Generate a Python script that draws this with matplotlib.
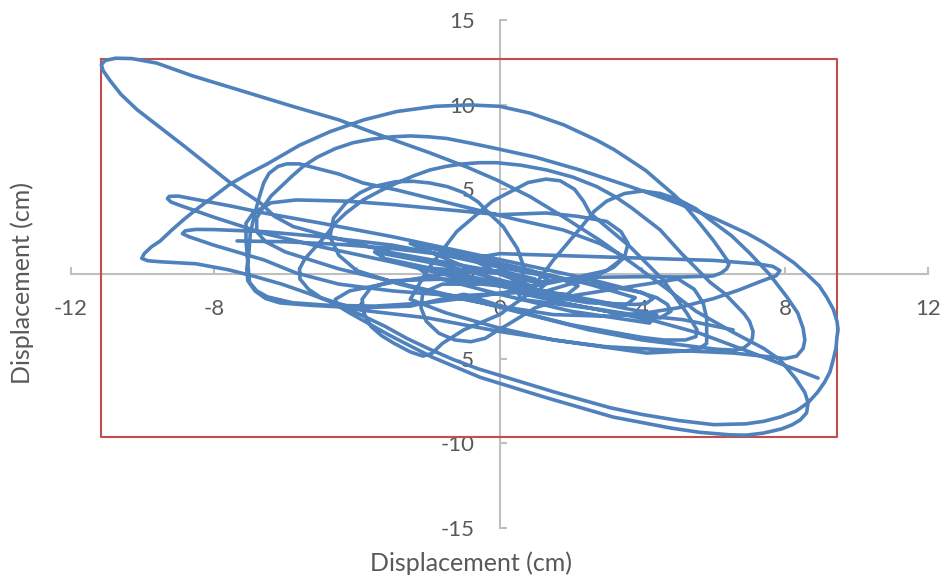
import matplotlib
matplotlib.use("Agg")
import matplotlib.pyplot as plt

plt.rcParams['font.family'] = ['Lato', 'DejaVu Sans']
plt.rcParams['axes.unicode_minus'] = False

# orbit of the displacement (x, y) in cm
orbit_xy = [
    (-7.35, 1.95), (-6.0, 1.9), (-4.5, 1.75), (-3.0, 1.5), (-1.8, 1.2), (-0.6, 0.8), (0.6, 0.3),
    (1.6, -0.2), (2.2, -0.7), (1.9, -1.2), (1.0, -1.2), (0.0, -0.7),
    (-1.0, -0.3), (-3.0, 0.7), (-5.0, 1.6), (-6.6, 2.4), (-8.0, 3.35), (-8.95, 4.05), (-9.2, 4.25),
    (-9.3, 4.45), (-9.25, 4.58), (-9.0, 4.6), (-8.5, 4.4), (-7.5, 4.0), (-6.6, 3.6), (-5.0, 3.0),
    (-3.0, 2.2), (-1.0, 1.3), (1.0, 0.4), (2.5, -0.3), (3.8, -1.0), (4.4, -1.4), (4.7, -1.8),
    (4.8, -2.2), (4.5, -2.6), (3.5, -2.4), (2.0, -1.8), (0.5, -1.1),
    (-1.2, -1.3), (-3.0, -1.0), (-4.5, -0.6), (-5.7, 0.06), (-6.6, 0.83), (-8.0, 1.7), (-8.7, 2.2),
    (-8.88, 2.38), (-8.8, 2.55), (-8.5, 2.63), (-8.0, 2.62), (-6.6, 2.5), (-5.0, 2.2), (-3.0, 1.7),
    (-1.5, 1.1), (0.0, 0.4), (1.5, -0.2), (3.0, -0.7), (4.0, -1.1), (4.3, -1.45), (4.1, -1.75),
    (3.8, -1.8), (2.5, -1.7), (1.0, -1.2),
    (2.6, -0.2), (3.2, 0.4), (3.5, 1.0), (3.6, 1.8), (3.4, 2.5), (3.0, 3.1), (2.2, 3.4), (1.3, 3.6),
    (0.0, 3.5), (-1.5, 3.8), (-3.0, 4.1), (-4.3, 4.3), (-5.7, 4.37), (-6.4, 4.2), (-6.9, 3.6),
    (-7.1, 3.0), (-7.1, 2.0), (-7.05, 0.65), (-7.0, -0.5), (-6.8, -1.0), (-6.5, -1.35), (-5.8, -1.7),
    (-4.8, -1.85), (-3.5, -1.9), (-2.0, -1.7), (-0.5, -1.3), (1.0, -0.8),
    (0.0, 0.0), (-0.8, 0.9), (0.0, 1.2), (1.5, 1.1), (3.0, 1.0), (4.5, 0.9), (6.0, 0.8), (7.2, 0.6),
    (7.65, 0.45), (7.85, 0.2), (7.75, -0.1), (7.3, -0.45), (6.7, -0.95), (6.0, -1.45), (5.0, -2.0),
    (4.1, -2.3), (3.0, -2.5), (1.5, -2.4), (0.0, -1.9), (-1.5, -1.3), (-2.8, -0.6),
    (-4.0, 0.2), (-4.5, 1.1), (-4.75, 2.2), (-4.65, 3.3), (-4.3, 4.2), (-3.9, 4.8), (-3.55, 5.15),
    (-2.9, 5.45), (-2.4, 5.47), (-1.95, 5.37), (-1.45, 5.15), (-1.0, 4.8), (-0.6, 4.25), (-0.3, 3.6),
    (0.1, 2.8), (0.5, 1.5), (0.7, 0.3), (0.5, -0.8), (-0.5, -0.6), (-1.6, -0.6), (-2.15, -1.1),
    (-2.2, -2.0), (-2.05, -2.8), (-1.7, -3.5), (-1.25, -3.9), (-0.8, -4.0), (-0.4, -3.8),
    (-0.1, -3.4), (0.3, -2.9), (1.0, -2.0), (2.0, -1.3), (3.5, -0.8), (5.0, -0.3), (5.45, -0.9),
    (5.7, -1.7), (5.8, -2.6), (5.8, -3.5), (5.8, -4.1), (5.6, -4.4), (5.2, -4.55), (4.12, -4.67),
    (2.2, -4.1), (0.0, -3.4), (-2.0, -2.6), (-3.9, -2.13), (-4.56, -1.71), (-5.0, -1.4),
    (-5.35, -0.9), (-5.59, -0.3), (-5.6, 0.3), (-5.45, 0.9), (-5.15, 1.6), (-4.85, 2.3),
    (-4.6, 3.0), (-4.3, 3.6), (-3.82, 4.37), (-3.35, 4.9), (-2.88, 5.37), (-2.4, 5.8), (-1.95, 6.14),
    (-1.5, 6.35), (-1.02, 6.5), (-0.55, 6.57), (-0.08, 6.57), (0.6, 6.42), (1.32, 6.14), (2.05, 5.72),
    (2.72, 5.16), (3.25, 4.55), (3.7, 3.9), (4.1, 3.25), (4.5, 2.6), (4.8, 1.9), (5.1, 1.2),
    (5.5, 0.35), (5.9, -0.5), (6.3, -1.15), (6.6, -1.8), (6.85, -2.35), (7.0, -2.8), (7.1, -3.4),
    (7.08, -3.8), (7.0, -4.1), (6.85, -4.35), (6.6, -4.5), (6.1, -4.45), (5.5, -4.3), (4.0, -3.9),
    (2.5, -3.3), (1.0, -2.5), (-0.5, -1.7),
    (-2.5, -0.7), (-4.5, 0.3), (-6.0, 1.3), (-6.55, 1.9), (-6.8, 2.5), (-6.8, 3.3), (-6.6, 4.0),
    (-6.4, 4.6), (-6.1, 5.2), (-5.8, 5.8), (-5.5, 6.35), (-5.1, 6.9), (-4.6, 7.4), (-4.1, 7.75),
    (-3.6, 7.95), (-3.0, 8.1), (-2.5, 8.15), (-2.0, 8.1), (-1.48, 8.0), (-0.8, 7.72), (-0.08, 7.4),
    (1.0, 6.9), (2.25, 6.14), (3.6, 5.2), (4.97, 4.19), (6.0, 3.3), (6.93, 2.4), (7.4, 1.85),
    (7.8, 1.3), (8.25, 0.65), (8.6, 0.0), (8.95, -0.7), (9.17, -1.4), (9.35, -2.1), (9.45, -2.8),
    (9.48, -3.3), (9.45, -3.7), (9.42, -4.4), (9.34, -5.1), (9.25, -5.8), (9.1, -6.4), (8.9, -7.0),
    (8.64, -7.6), (8.3, -8.1), (7.86, -8.45), (7.4, -8.7), (6.9, -8.85), (6.0, -8.9), (5.0, -8.65),
    (4.0, -8.3), (3.1, -7.9), (2.25, -7.4), (1.5, -6.95), (0.8, -6.5), (0.1, -6.05), (-0.6, -5.6),
    (-1.3, -5.05), (-1.95, -4.45), (-2.6, -3.8), (-3.2, -3.1), (-3.9, -2.4), (-4.6, -1.75),
    (-5.35, -1.15), (-6.1, -0.6), (-6.85, -0.15), (-7.6, 0.25), (-8.5, 0.6), (-9.5, 0.72),
    (-9.85, 0.78), (-10.02, 0.92), (-9.95, 1.2), (-9.75, 1.6), (-9.5, 1.95), (-9.2, 2.55),
    (-8.85, 3.2), (-8.5, 3.8), (-8.05, 4.5), (-7.55, 5.3), (-7.05, 5.9), (-6.5, 6.5), (-6.05, 7.05),
    (-5.6, 7.6), (-4.75, 8.4), (-3.8, 9.1), (-2.88, 9.59), (-1.8, 9.9), (-0.83, 9.98), (0.0, 9.9),
    (0.85, 9.5), (1.8, 8.8), (2.72, 7.9), (3.2, 7.35), (3.6, 6.8), (4.1, 6.1), (4.5, 5.37),
    (4.9, 4.65), (5.2, 4.0), (5.6, 3.0), (5.98, 2.0), (6.2, 1.35), (6.37, 0.83), (6.42, 0.55),
    (6.36, 0.3), (6.2, 0.05), (5.98, -0.12), (5.1, -0.18), (4.12, -0.16), (2.5, -0.2), (1.0, -0.5),
    (-0.5, 0.3), (-2.98, 1.24), (-4.56, 2.1), (-5.78, 2.8), (-6.3, 3.4), (-6.7, 4.2), (-7.55, 5.4),
    (-8.8, 7.5), (-10.15, 9.7), (-10.6, 10.6), (-10.9, 11.4), (-11.1, 12.0), (-11.15, 12.35),
    (-11.05, 12.6), (-10.75, 12.74), (-10.3, 12.72), (-9.6, 12.45), (-8.6, 11.7), (-7.2, 10.8),
    (-5.8, 9.9), (-4.5, 9.1), (-3.35, 8.2), (-1.95, 7.15), (-0.9, 6.3), (-0.08, 5.55), (0.85, 4.57),
    (1.78, 3.38), (2.8, 2.0), (3.8, 0.5), (4.7, -0.9), (5.5, -2.2), (6.5, -3.4), (7.4, -4.4),
    (7.86, -5.08), (8.3, -6.2), (8.55, -7.0), (8.64, -7.6), (8.6, -8.2), (8.42, -8.62), (8.2, -8.9),
    (7.9, -9.15), (7.38, -9.4), (6.9, -9.52), (6.46, -9.5), (5.6, -9.35), (4.8, -9.1), (3.18, -8.45),
    (1.3, -7.3), (-0.55, -6.1), (-1.9, -4.9), (-3.1, -3.6), (-4.2, -2.3), (-4.55, -1.85),
    (-4.6, -1.5), (-4.2, -1.0), (-3.0, -0.5), (-1.5, 0.0), (0.0, 0.2),
    (1.0, -0.3), (0.0, -0.6), (-1.5, -0.3), (-3.0, -0.4), (-3.6, -0.8), (-3.85, -1.5), (-3.8, -2.3),
    (-3.6, -3.1), (-3.3, -3.65), (-2.95, -4.1), (-2.5, -4.6), (-2.15, -4.85), (-1.9, -4.7),
    (-1.6, -4.1), (-1.0, -3.3), (0.0, -2.4), (0.8, -1.2), (1.15, -0.2), (1.5, 0.8), (1.9, 1.8),
    (2.3, 2.8), (2.65, 3.7), (3.0, 4.3), (3.5, 4.75), (4.0, 4.9), (4.5, 4.75), (5.0, 4.4),
    (5.5, 3.85), (5.9, 3.19), (6.5, 2.25), (7.0, 1.24), (7.55, 0.0), (8.04, -1.34), (8.35, -2.3),
    (8.5, -3.2), (8.55, -3.9), (8.5, -4.4), (8.32, -4.85), (8.0, -5.0), (7.67, -4.92), (6.55, -4.67),
    (4.68, -4.49), (3.0, -4.3), (1.5, -3.9), (0.0, -3.2), (-1.5, -2.3), (-2.5, -1.5),
    (-2.0, 0.3), (-1.2, 2.5), (-0.2, 4.3), (0.8, 5.4), (1.3, 5.6), (1.7, 5.5), (2.1, 5.0),
    (2.35, 4.3), (2.53, 3.6), (3.66, 1.6), (4.58, -0.35), (5.24, -2.3), (5.53, -3.3), (5.5, -3.7),
    (5.2, -3.9), (4.6, -3.9), (4.0, -3.75), (2.0, -3.0), (0.5, -2.2), (-1.0, -1.2),
    (-2.5, -1.9), (-4.0, -2.0), (-5.3, -1.85), (-6.15, -1.71), (-6.55, -1.45), (-6.85, -1.0),
    (-7.05, -0.4), (-7.08, 0.3), (-7.02, 1.2), (-6.98, 2.4), (-6.85, 3.6), (-6.72, 4.6), (-6.6, 5.4),
    (-6.45, 5.95), (-6.2, 6.35), (-5.96, 6.5), (-5.6, 6.5), (-5.31, 6.34), (-4.5, 5.9),
    (-3.82, 5.37), (-2.88, 4.96), (-1.02, 3.98), (0.5, 3.2), (1.78, 2.6), (2.8, 1.8), (3.5, 1.0),
    (3.0, 0.2), (1.5, -0.5), (0.5, -0.9),
    # dense strokes through the middle
    (-2.5, 1.8), (0.0, 0.6), (2.5, -0.6), (3.8, -1.4), (3.5, -1.9), (1.0, -0.9), (-1.5, 0.5),
    (-3.5, 1.3), (-3.2, 0.9), (-0.5, -0.3), (2.0, -1.4), (4.4, -2.4), (4.2, -2.9), (2.0, -2.2),
    (0.0, -1.2), (-2.0, -0.1), (-2.3, 0.4), (0.2, 0.0), (1.5, -1.6), (3.0, -2.2), (4.3, -2.75),
    (5.6, -3.5), (7.0, -4.6), (8.92, -6.15),
]

# short second trace in the middle
tail_xy = [
    (-1.67, 1.35), (-0.8, 1.05), (0.0, 0.65), (0.9, 0.2), (1.4, -0.4), (1.1, -0.95), (0.5, -1.0),
    (0.6, -1.5), (1.7, -1.8), (2.82, -2.1), (3.74, -2.4), (5.14, -2.7), (6.54, -3.3),
]

# bounding box (red) corners
box_x = [-11.16, 9.45, 9.45, -11.16, -11.16]
box_y = [12.72, 12.72, -9.61, -9.61, 12.72]

x_ticks = [-12, -8, -4, 0, 4, 8, 12]
y_ticks = [-15, -10, -5, 0, 5, 10, 15]

blue = '#4F81BD'
grey = '#BFBFBF'
txt = '#595959'

fig = plt.figure(figsize=(9.47, 5.86), dpi=100)
ax = fig.add_axes([0.075, 0.099, 0.905, 0.867])

ox, oy = zip(*orbit_xy)
tx, ty = zip(*tail_xy)
ax.plot(box_x, box_y, color='#C0504D', linewidth=1.5, zorder=2)
ax.plot(ox, oy, color=blue, linewidth=2.6, solid_joinstyle='round', solid_capstyle='round', zorder=3)
ax.plot(tx, ty, color=blue, linewidth=2.6, solid_joinstyle='round', solid_capstyle='round', zorder=3)

ax.set_xlim(-12, 12)
ax.set_ylim(-15, 15)
ax.set_xticks(x_ticks)
ax.set_yticks(y_ticks)

ax.spines['left'].set_position(('data', 0))
ax.spines['bottom'].set_position(('data', 0))
for s in ['top', 'right']:
    ax.spines[s].set_visible(False)
for s in ['left', 'bottom']:
    ax.spines[s].set_color(grey)
    ax.spines[s].set_linewidth(1.5)
    ax.spines[s].set_zorder(1)

ax.tick_params(axis='both', direction='in', length=5, width=1.5, color=grey,
               labelsize=16, labelcolor=txt, pad=18)

fig.text(471 / 947, 1 - 563 / 586, 'Displacement (cm)', ha='center', va='center',
         fontsize=18, color=txt)
fig.text(22 / 947, 1 - 283 / 586, 'Displacement (cm)', ha='center', va='center',
         rotation=90, fontsize=18, color=txt)

fig.savefig('out.png', dpi=100)
